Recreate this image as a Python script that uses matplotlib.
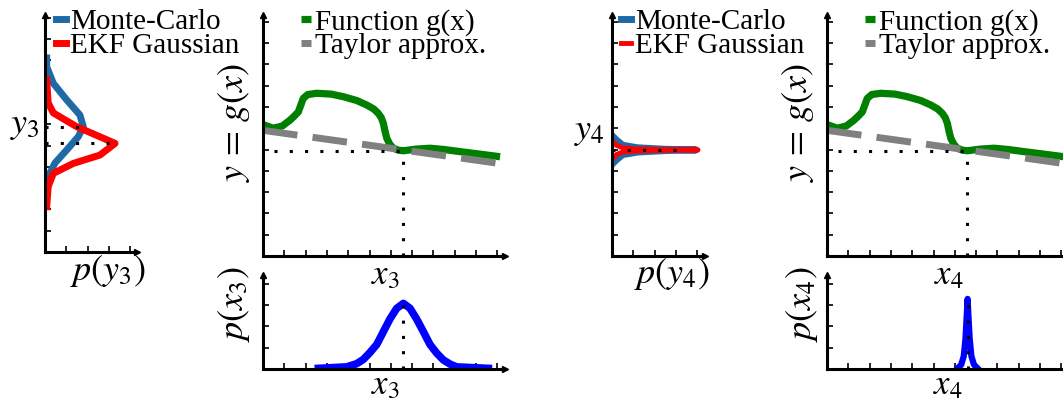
import matplotlib
matplotlib.use('Agg')
import matplotlib.pyplot as plt

plt.rcParams['font.family'] = ['Liberation Serif', 'DejaVu Serif']
plt.rcParams['mathtext.fontset'] = 'stix'

W, H = 1063, 403
U = 21.3  # pixels per tick unit

# ---- data (tick units) ----
# nonlinear function g(x) and its Taylor line
g_x = [0.0, 0.48, 0.9, 1.27, 1.5, 1.66, 1.78, 1.89, 2.1, 2.52, 3.2, 3.77, 4.4, 4.87, 5.2, 5.41, 5.55, 5.65,
       5.72, 5.81, 5.95, 6.12, 6.35, 6.59, 7.2, 7.84, 8.5, 9.25, 10.2, 11.13]
g_y = [6.17, 6.0, 6.1, 6.38, 6.6, 6.77, 7.1, 7.4, 7.58, 7.64, 7.6, 7.48, 7.3, 7.09, 6.9, 6.7, 6.5, 6.23,
       5.9, 5.53, 5.25, 5.06, 4.97, 4.94, 5.02, 5.06, 5.0, 4.9, 4.78, 4.66]
taylor_x = [0.0, 11.13]
taylor_y = [5.9, 4.34]
x_lin = 6.59
y_lin = 4.94

# case 3: wide input density
px3_x = [2.6, 3.93, 4.4, 4.71, 5.0, 5.34, 5.65, 5.96, 6.28, 6.59, 6.9, 7.21, 7.53, 7.84, 8.15, 8.47, 8.8, 9.09, 10.58]
px3_y = [0.03, 0.1, 0.25, 0.45, 0.75, 1.15, 1.75, 2.35, 2.85, 3.08, 2.85, 2.35, 1.75, 1.15, 0.75, 0.42, 0.22, 0.1, 0.03]
mc3_p = [0.08, 0.08, 0.39, 1.02, 1.64, 1.8, 1.56, 1.02, 0.47, 0.15, 0.08]
mc3_y = [9.11, 8.7, 7.92, 7.14, 6.43, 5.88, 5.41, 4.79, 4.18, 3.54, 3.07]
ekf3_p = [0.08, 0.15, 0.39, 1.49, 2.58, 3.29, 2.58, 1.33, 0.39, 0.15, 0.08]
ekf3_y = [8.08, 7.0, 6.53, 5.88, 5.41, 5.1, 4.55, 4.16, 3.69, 3.07, 2.13]
mc3_peak = (1.8, 5.88)
ekf3_peak = (3.29, 5.1)

# case 4: narrow input density
px4_x = [6.15, 6.3, 6.42, 6.5, 6.56, 6.6, 6.64, 6.7, 6.78, 6.9, 7.05]
px4_y = [0.05, 0.2, 0.6, 1.4, 2.5, 3.29, 2.5, 1.4, 0.6, 0.2, 0.05]
mc4_p = [0.05, 0.2, 0.5, 1.2, 2.5, 3.95, 2.5, 1.2, 0.5, 0.2, 0.05]
mc4_y = [5.6, 5.45, 5.2, 5.08, 5.01, 4.98, 4.95, 4.88, 4.76, 4.51, 4.36]
ekf4_p = [0.05, 0.2, 0.5, 1.2, 2.5, 4.04, 2.5, 1.2, 0.5, 0.2, 0.05]
ekf4_y = [5.35, 5.2, 5.08, 5.03, 5.0, 4.98, 4.96, 4.93, 4.88, 4.76, 4.6]
y4_peak = (3.05, 4.98)

GREEN = '#007f00'
GREY = '#808080'
MCBLUE = '#1f6aa5'
RED = '#ff0000'
BLUE = '#0000ff'
DOT = (0, (1, 4))

fig = plt.figure(figsize=(W / 100, H / 100), dpi=100)


def px_axes(x0, y0, w, h):
    # x0, y0 = origin in pixels from top-left
    ax = fig.add_axes([x0 / W, 1 - y0 / H, w / W, h / H])
    xmax, ymax = w / U, h / U
    ax.set_xlim(0, xmax)
    ax.set_ylim(0, ymax)
    for s in ['top', 'right']:
        ax.spines[s].set_visible(False)
    for s in ['left', 'bottom']:
        ax.spines[s].set_linewidth(2.2)
    ax.set_xticks(range(1, int(xmax) + 1))
    ax.set_yticks(range(1, int(ymax) + 1))
    ax.tick_params(direction='in', length=4.5, width=1.2, labelbottom=False, labelleft=False)
    ax.plot(1, 0, '>k', ms=5, transform=ax.get_yaxis_transform(), clip_on=False)
    ax.plot(0, 1, '^k', ms=5, transform=ax.get_xaxis_transform(), clip_on=False)
    return ax


def legend(ax, x, y):
    ax.legend(loc='upper left', bbox_to_anchor=(x / W, 1 - y / H), bbox_transform=fig.transFigure,
              frameon=False, fontsize=21, handlelength=0.35, handletextpad=0.12,
              labelspacing=-0.1, borderpad=0, borderaxespad=0)


def ftext(x, y, s, rot=0, size=24, ha='center'):
    fig.text(x / W, 1 - y / H, s, rotation=rot, fontsize=size, ha=ha, va='center')


def main_panel(x0, idx):
    ax = px_axes(x0, 256, 242, 241)
    ax.plot(g_x, g_y, color=GREEN, lw=5.2, solid_capstyle='butt', solid_joinstyle='round', label='Function g(x)')
    ax.plot(taylor_x, taylor_y, color=GREY, lw=5, dashes=(5, 2.2), label='Taylor approx.')
    ax.plot([0.5, x_lin], [y_lin, y_lin], color='k', lw=2.2, ls=DOT)
    ax.plot([x_lin, x_lin], [0, y_lin], color='k', lw=2.2, ls=DOT)
    legend(ax, x0 + 38, 9)
    ftext(x0 - 29, 122, r'$y\,=\,g(x)$', rot=90, size=26)
    ftext(x0 + 122, 276, r'$x_%d$' % idx, size=25)
    return ax


# ---- case 3 ----
axl = px_axes(45, 252, 92, 237)
axl.plot(mc3_p, mc3_y, color=MCBLUE, lw=5, label='Monte-Carlo')
axl.plot(ekf3_p, ekf3_y, color=RED, lw=5, label='EKF Gaussian')
axl.plot([0, mc3_peak[0]], [mc3_peak[1]] * 2, color='k', lw=2.2, ls=DOT)
axl.plot([0, ekf3_peak[0]], [ekf3_peak[1]] * 2, color='k', lw=2.2, ls=DOT)
legend(axl, 56, 9)
ftext(40, 126, r'$y_3$', size=26, ha='right')
ftext(108, 271, r'$p(y_3)$', size=26)

main_panel(263, 3)

axb = px_axes(263, 369, 242, 94)
axb.plot(px3_x, px3_y, color=BLUE, lw=5.5, solid_joinstyle='round')
axb.plot([x_lin, x_lin], [0, px3_y[9]], color='k', lw=2.2, ls=DOT)
ftext(234, 304, r'$p(x_3)$', rot=90, size=26)
ftext(385, 386, r'$x_3$', size=25)

# ---- case 4 ----
axl2 = px_axes(612, 256, 93, 241)
axl2.plot(mc4_p, mc4_y, color=MCBLUE, lw=5, label='Monte-Carlo')
axl2.plot(ekf4_p, ekf4_y, color=RED, lw=3.5, label='EKF Gaussian')
axl2.plot([0, y4_peak[0]], [y4_peak[1]] * 2, color='k', lw=2.2, ls=DOT)
legend(axl2, 621, 9)
ftext(605, 131, r'$y_4$', size=26, ha='right')
ftext(672, 274, r'$p(y_4)$', size=26)

main_panel(827, 4)

axb2 = px_axes(827, 369, 242, 94)
axb2.plot(px4_x, px4_y, color=BLUE, lw=4.5)
axb2.plot([6.6, 6.6], [0, px4_y[5]], color='k', lw=2.2, ls=DOT)
ftext(802, 304, r'$p(x_4)$', rot=90, size=26)
ftext(948, 386, r'$x_4$', size=25)

fig.savefig('out.png', dpi=100, facecolor='white')
